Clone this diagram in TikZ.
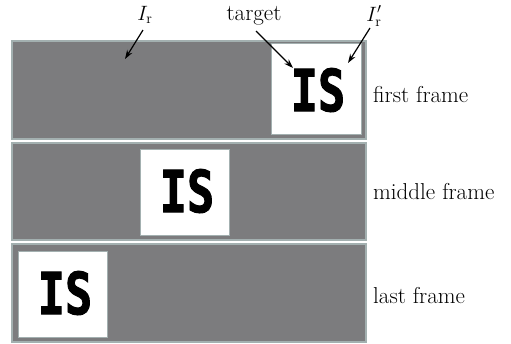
\documentclass[tikz,border=0pt]{standalone}
\usepackage{fontspec}
\newfontfamily\isfont[FakeBold=2]{DejaVu Sans Mono}
\usetikzlibrary{arrows.meta}
\definecolor{framegray}{HTML}{7C7C7E}
\definecolor{frameedge}{HTML}{A3B0B0}
\tikzset{
  framebox/.style={fill=framegray, draw=frameedge, line width=1.6pt},
  whitebox/.style={fill=white, draw=frameedge, line width=1pt},
  istext/.style={font=\isfont\bfseries\fontsize{58}{60}\selectfont, inner sep=0pt, xscale=0.78},
  label/.style={font=\fontsize{23}{26}\selectfont, anchor=base west, inner sep=0pt},
  ptr/.style={-{Stealth[length=9pt,width=6pt]}, line width=1.2pt},
}
\begin{document}
\begin{tikzpicture}[x=1pt,y=-1pt]
\useasboundingbox (0,0) rectangle (511,343);
% frames
\draw[framebox] (12,41) rectangle (366,139);
\draw[framebox] (12,143) rectangle (366,240);
\draw[framebox] (12,244) rectangle (366,342);
% white boxes
\draw[whitebox] (271,43) rectangle (361,134);
\draw[whitebox] (140,149) rectangle (229,235);
\draw[whitebox] (18,251) rectangle (107,337);
% IS
\node[istext] (is1) at (318,90) {IS};
\node[istext] (is2) at (187,191) {IS};
\node[istext] (is3) at (65,293) {IS};
% frame labels
\node[label] (l1) at (373,102) {first frame};
\node[label] (l2) at (373,199) {middle frame};
\node[label] (l3) at (373,303) {last frame};
% top labels
\node[font=\fontsize{21}{24}\selectfont, inner sep=0pt] (ir) at (145,15) {$I_{\mathrm{r}}$};
\node[font=\fontsize{23}{26}\selectfont, anchor=base, inner sep=0pt] (tg) at (254,20) {target};
\node[font=\fontsize{21}{24}\selectfont, inner sep=0pt] (irp) at (374,16) {$I'_{\mathrm{r}}$};
\coordinate (a1) at (125,59);
\coordinate (a2) at (293,68);
\coordinate (a3) at (348,63);
\draw[ptr] (143,30) -- (a1);
\draw[ptr] (256,31) -- (a2);
\draw[ptr] (370,28) -- (a3);
\end{tikzpicture}
\end{document}
